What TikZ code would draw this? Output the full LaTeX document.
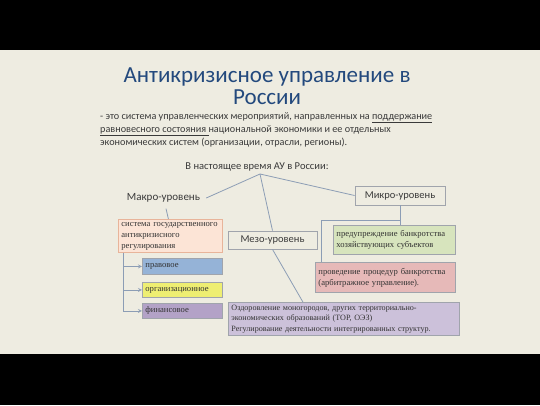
\documentclass[tikz,border=0pt]{standalone}
\usepackage{fontspec}
\setmainfont{Carlito}
\newfontfamily\boxfont{Liberation Serif}
\usetikzlibrary{shapes,arrows}
\usetikzlibrary{positioning}

\definecolor{slidebg}{HTML}{EEECE1}
\definecolor{titleblue}{HTML}{23497D}
\definecolor{bodygray}{HTML}{3A3A3A}
\definecolor{linkgray}{HTML}{8C9DB5}
\definecolor{framegray}{HTML}{A0A4AC}
\definecolor{peach}{HTML}{FCE4D6}
\definecolor{peachline}{HTML}{E8B49A}
\definecolor{greenbox}{HTML}{D7E4BD}
\definecolor{pinkbox}{HTML}{E6B9B8}
\definecolor{bluebox}{HTML}{95B3D7}
\definecolor{yellowbox}{HTML}{EEEE72}
\definecolor{lilacbox}{HTML}{B3A2C7}
\definecolor{lilacbig}{HTML}{CCC1DA}

\tikzset{
  lbl/.style={inner sep=0pt, text=bodygray},
  levelbox/.style={draw=framegray, line width=0.8pt, fill=slidebg, text=bodygray,
    font=\fontsize{10.5}{12}\selectfont, inner sep=0pt},
  serifbox/.style={draw=framegray, line width=0.8pt, anchor=north west, align=left,
    inner xsep=3pt, inner ysep=1pt, text=black!80,
    font=\boxfont\fontsize{8.6}{11}\selectfont},
  link/.style={draw=linkgray, line width=0.8pt}
}

\begin{document}
\begin{tikzpicture}[x=1pt, y=-1pt]
    % Background
    \useasboundingbox (0,0) rectangle (540,405);
    \fill[black] (0,0) rectangle (540,405);
    \fill[slidebg] (0,50) rectangle (540,354);

    % Heading and definition
    \node[lbl, text=titleblue, align=center, font=\fontsize{23}{22}\selectfont] (title) at (267,86)
        {Антикризисное управление в\\России};
    \node[lbl, anchor=north west, align=left, font=\fontsize{10.2}{13}\selectfont] (defn) at (100,112)
        {- это система управленческих мероприятий, направленных на \underline{поддержание}\\
         \underline{равновесного состояния }национальной экономики и  ее отдельных\\
         экономических систем  (организации, отрасли, регионы).};

    \node[lbl, font=\fontsize{10.5}{12}\selectfont] (now) at (257,167) {В настоящее время АУ в России:};
    \coordinate (hub) at (260,174);

    % Levels
    \node[lbl, font=\fontsize{11}{12}\selectfont] (macro) at (163.5,198) {Макро-уровень};
    \node[levelbox, minimum width=89, minimum height=18] (meso) at (272.5,240) {Мезо-уровень};
    \node[levelbox, minimum width=90, minimum height=19] (micro) at (400,195.5) {Микро-уровень};

    % Macro branch
    \node[serifbox, draw=peachline, fill=peach, text width=98, minimum height=33] (gosreg) at (118,219)
        {система государственного\\антикризисного\\регулирования};
    \node[serifbox, fill=bluebox, text width=74, minimum height=16] (pravo) at (142,258) {правовое};
    \node[serifbox, fill=yellowbox, text width=74, minimum height=15] (org) at (142,282) {организационное};
    \node[serifbox, fill=lilacbox, text width=74, minimum height=15] (fin) at (142,303) {финансовое};

    % Meso branch
    \node[serifbox, fill=lilacbig, text width=225, minimum height=33,
          font=\boxfont\fontsize{8.1}{10.5}\selectfont] (ozdor) at (228,302)
        {Оздоровление моногородов, других территориально-\\экономических образований (ТОР, ОЭЗ)\\Регулирование деятельности интегрированных структур.};

    % Micro branch
    \node[serifbox, fill=greenbox, text width=116, minimum height=29] (prevent) at (333,225)
        {предупреждение банкротства\\хозяйствующих субъектов};
    \node[serifbox, fill=pinkbox, text width=134, minimum height=30] (proced) at (315,262)
        {проведение процедур банкротства\\(арбитражное управление).};

    % Connectors
    \draw[link] (hub) -- ([xshift=6pt]macro.east);
    \draw[link] (hub) -- (meso.north);
    \draw[link] (hub) -- (micro.west);
    \draw[link] (meso.south) -- ([xshift=-41pt]ozdor.north);
    \draw[link] ([xshift=2.5pt, yshift=-6pt]macro.south) -- ([xshift=-2pt]gosreg.north);
    \draw[link] (micro.south) -- (micro.south |- prevent.north);
    \draw[link] ([yshift=-15pt]micro.south) -| ([xshift=6pt]proced.north west);
    \coordinate (trunk) at ([xshift=5pt]gosreg.south west);
\foreach \b in {pravo, org, fin}
  \draw[link, -stealth] (trunk) |- (\b.west);

  \end{tikzpicture}
\end{document}
